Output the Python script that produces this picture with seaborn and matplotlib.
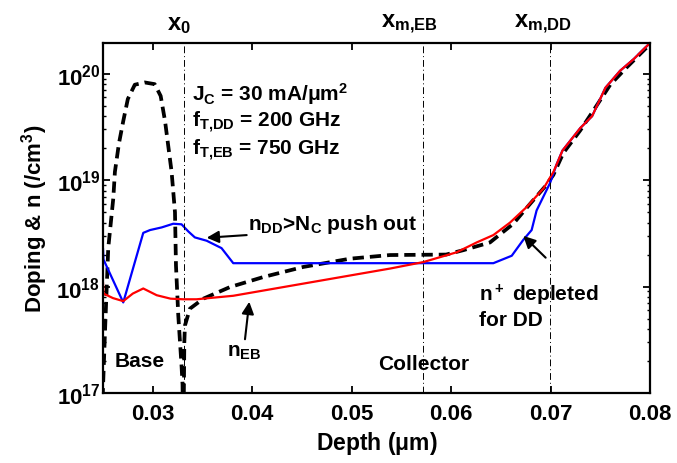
import matplotlib
matplotlib.use("Agg")
import matplotlib.pyplot as plt
import matplotlib.transforms as mtransforms
from matplotlib.ticker import FixedLocator, FixedFormatter, LogLocator, NullFormatter, NullLocator
import pandas as pd
import seaborn as sns

# Net doping |N_D - N_A| across base / collector / subcollector
depth_doping = [0.0249, 0.0252, 0.02553, 0.02604, 0.0262, 0.0266, 0.02704, 0.0275,
                0.0282, 0.0292, 0.0302, 0.0308, 0.03124, 0.0319, 0.03224, 0.03234,
                0.03257, 0.0329, 0.0330, 0.03308, 0.03318, 0.03324, 0.03374, 0.03509,
                0.03777, 0.04112, 0.04514, 0.04984, 0.05386, 0.0595, 0.06123, 0.06391,
                0.06626, 0.0676, 0.06944, 0.07028, 0.07128, 0.0730, 0.0743, 0.0760,
                0.07766, 0.0800]
doping = [6e16, 3.7e17, 2.3e18, 6.8e18, 1.2e19, 2.2e19, 3.6e19, 5.8e19,
          7.9e19, 8.3e19, 8.0e19, 6.2e19, 3.6e19, 1.2e19, 5.0e18, 1.58e18,
          5.4e17, 1.8e17, 1.2e17, 3e16, 3.0e17, 4.3e17, 6.2e17, 7.7e17,
          9.9e17, 1.23e18, 1.53e18, 1.83e18, 1.98e18, 2.0e18, 2.2e18, 2.6e18,
          3.9e18, 5.5e18, 8.7e18, 1.12e19, 1.8e19, 2.95e19, 4.5e19, 7.9e19,
          1.15e20, 1.9e20]

# Electron density, EB-limited case
depth_eb = [0.0250, 0.02505, 0.0260, 0.02704, 0.0280, 0.02905, 0.0304, 0.0318,
            0.03307, 0.03441, 0.0381, 0.0539, 0.0572, 0.06055, 0.06257, 0.06425,
            0.06593, 0.0676, 0.0693, 0.0703, 0.0712, 0.0730, 0.07418, 0.07552,
            0.0770, 0.07834, 0.0800]
n_eb = [1.1e18, 8.6e17, 7.8e17, 7.3e17, 8.6e17, 9.6e17, 8.3e17, 7.7e17,
        7.6e17, 7.6e17, 8.2e17, 1.48e18, 1.7e18, 2.1e18, 2.6e18, 3.05e18,
        4.0e18, 5.6e18, 8.4e18, 1.2e19, 1.9e19, 3.1e19, 4.0e19, 7.4e19,
        1.07e20, 1.37e20, 1.95e20]

# Electron density, drift-diffusion case
depth_dd = [0.0250, 0.02505, 0.02704, 0.02905, 0.02973, 0.0309, 0.03207, 0.0329,
            0.03358, 0.03424, 0.03542, 0.03692, 0.0381, 0.06425, 0.0661, 0.06726,
            0.0681, 0.0686, 0.06995, 0.0706, 0.0712, 0.0730, 0.07418, 0.07552,
            0.0770, 0.07834, 0.0800]
n_dd = [2.3e18, 1.8e18, 7.1e17, 3.2e18, 3.4e18, 3.6e18, 3.9e18, 3.85e18,
        3.3e18, 2.9e18, 2.7e18, 2.3e18, 1.66e18, 1.66e18, 1.95e18, 2.75e18,
        3.4e18, 5.2e18, 9.4e18, 1.4e19, 1.9e19, 3.1e19, 4.0e19, 7.4e19,
        1.07e20, 1.37e20, 1.95e20]

marker_depths = [0.0331, 0.0572, 0.0699]
marker_labels = [r"x$_0$", r"x$_{m{,}EB}$", r"x$_{m{,}DD}$"]
marker_label_shift_px = [-5, -14, -7]

x_ticks = [0.03, 0.04, 0.05, 0.06, 0.07, 0.08]
x_tick_labels = ["0.03", "0.04", "0.05", "0.06", "0.07", "0.08"]
y_ticks = [1e17, 1e18, 1e19, 1e20]
y_tick_labels = [r"10$^{17}$", r"10$^{18}$", r"10$^{19}$", r"10$^{20}$"]

sns.set_theme(style="white")
plt.rcParams.update({
    "font.family": ["Liberation Sans", "DejaVu Sans"],
    "font.weight": "bold",
    "axes.labelweight": "bold",
    "text.color": "black",
    "axes.labelcolor": "black",
    "xtick.color": "black",
    "ytick.color": "black",
    "mathtext.fontset": "custom",
    "mathtext.rm": "Liberation Sans:bold",
    "mathtext.it": "Liberation Sans:bold",
    "mathtext.bf": "Liberation Sans:bold",
    "mathtext.sf": "Liberation Sans:bold",
    "mathtext.default": "rm",
})

fig = plt.figure(figsize=(6.77, 4.64), dpi=100)
ax = fig.add_axes([0.1521, 0.1509, 0.8080, 0.7543])

df_dop = pd.DataFrame({"depth": depth_doping, "conc": doping})
df_eb = pd.DataFrame({"depth": depth_eb, "conc": n_eb})
df_dd = pd.DataFrame({"depth": depth_dd, "conc": n_dd})

sns.lineplot(data=df_dop, x="depth", y="conc", ax=ax, color="black", lw=2.7,
             linestyle=(0, (3, 1.6)), estimator=None, sort=False)
sns.lineplot(data=df_dd, x="depth", y="conc", ax=ax, color=(0, 0, 1), lw=1.6,
             estimator=None, sort=False)
sns.lineplot(data=df_eb, x="depth", y="conc", ax=ax, color=(1, 0, 0), lw=1.6,
             estimator=None, sort=False)

ax.set_yscale("log")
ax.set_xlim(0.025, 0.08)
ax.set_ylim(1e17, 1.95e20)

# Dash-dot markers for the junction and the two field-peak positions
trans = mtransforms.blended_transform_factory(ax.transData, ax.transAxes)
for xd, lab, dx in zip(marker_depths, marker_labels, marker_label_shift_px):
    ax.axvline(xd, color="black", lw=0.7, linestyle=(0, (7, 3, 1, 3)))
    shift = mtransforms.ScaledTranslation(dx / 100.0, 0, fig.dpi_scale_trans)
    ax.text(xd, 1.022, lab, transform=trans + shift, ha="center", va="bottom",
            fontsize=17, fontweight="bold")

ax.xaxis.set_major_locator(FixedLocator(x_ticks))
ax.xaxis.set_major_formatter(FixedFormatter(x_tick_labels))
ax.xaxis.set_minor_locator(NullLocator())
ax.yaxis.set_major_locator(FixedLocator(y_ticks))
ax.yaxis.set_major_formatter(FixedFormatter(y_tick_labels))
ax.yaxis.set_minor_locator(LogLocator(base=10, subs=range(2, 10)))
ax.yaxis.set_minor_formatter(NullFormatter())

ax.tick_params(which="both", direction="in", top=True, right=True,
               bottom=True, left=True, colors="black")
ax.tick_params(which="major", length=5, width=1.3)
ax.tick_params(axis="x", which="major", labelsize=16, pad=7)
ax.tick_params(axis="y", which="major", labelsize=16, pad=2)
ax.tick_params(which="minor", length=2.5, width=1.0)
for sp in ax.spines.values():
    sp.set_linewidth(1.6)
    sp.set_color("black")

ax.set_xlabel(r"Depth ($\mu$m)", fontsize=16.5, fontweight="bold", labelpad=4)
ax.set_ylabel(r"Doping & n (/cm$^3$)", fontsize=16, fontweight="bold", labelpad=5)

fs = 15
ax.text(0.03392, 5.7e19, r"J$_C$ = 30 mA/$\mu$m$^2$", fontsize=fs, va="baseline")
ax.text(0.03392, 3.2e19, r"f$_{T{,}DD}$ = 200 GHz", fontsize=fs, va="baseline")
ax.text(0.03392, 1.76e19, r"f$_{T{,}EB}$ = 750 GHz", fontsize=fs, va="baseline")
ax.text(0.0262, 1.81e17, "Base", fontsize=fs, va="baseline")
ax.text(0.05265, 1.68e17, "Collector", fontsize=fs, va="baseline")
ax.text(0.03744, 2.25e17, r"n$_{EB}$", fontsize=fs, va="baseline")
ax.text(0.0396, 3.5e18, r"n$_{DD}$>N$_C$ push out", fontsize=fs, va="baseline")
ax.text(0.0628, 7.4e17, r"n$^+$ depleted", fontsize=fs, va="baseline")
ax.text(0.0628, 4.4e17, "for DD", fontsize=fs, va="baseline")

arrow = dict(arrowstyle="-|>", color="black", lw=1.5, mutation_scale=18,
             shrinkA=0, shrinkB=0)
ax.annotate("", xy=(0.03543, 2.88e18), xytext=(0.03945, 3.05e18), arrowprops=arrow)
ax.annotate("", xy=(0.03971, 7.2e17), xytext=(0.03928, 3.2e17), arrowprops=arrow)
ax.annotate("", xy=(0.06726, 3.0e18), xytext=(0.06951, 1.87e18), arrowprops=arrow)

fig.savefig("out.png", dpi=100, facecolor="white")
